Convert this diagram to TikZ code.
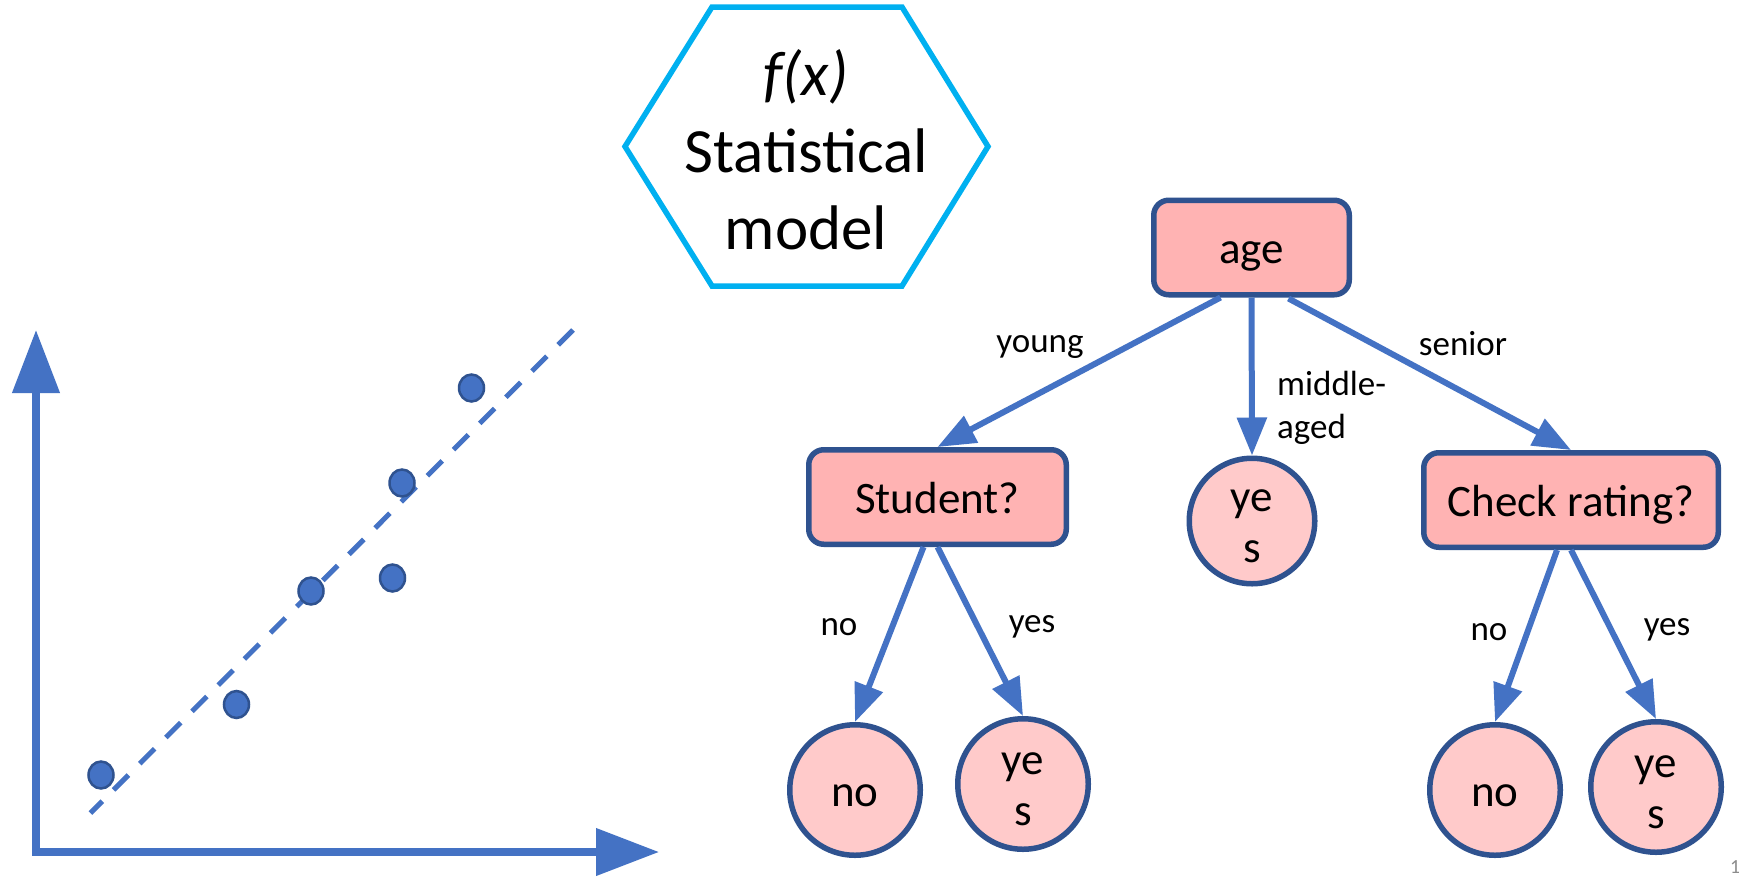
\documentclass[tikz,border=0pt]{standalone}
\usepackage{fontspec}
\setmainfont{Carlito}
\usetikzlibrary{arrows.meta,calc}
\definecolor{linkblue}{HTML}{4472C4}
\definecolor{edgeblue}{HTML}{2F528F}
\definecolor{hexcyan}{HTML}{00B0F0}
\definecolor{boxpink}{HTML}{FFB3B3}
\definecolor{leafpink}{HTML}{FFCACA}
\definecolor{pagegray}{HTML}{8C8C8C}
\begin{document}
\begin{tikzpicture}[x=1pt,y=-1pt,
  testbox/.style={draw=edgeblue, line width=5.5pt, fill=boxpink, rounded corners=15pt,
    minimum height=94.5pt, inner sep=0pt, font=\fontsize{45}{54}\selectfont,
    text height=38pt, text depth=6pt},
  leaf/.style={circle, draw=edgeblue, line width=5.5pt, fill=leafpink, minimum size=130.5pt,
    inner sep=0pt, font=\fontsize{45}{51}\selectfont},
  leafone/.style={leaf, text height=38pt, text depth=6pt},
  leaftwo/.style={leaf, align=center, text height=82pt, text depth=0pt},
  branch/.style={draw=linkblue, line width=6pt, -{Triangle[width=29pt,length=38pt]}},
  lbl/.style={font=\fontsize{35}{43}\selectfont, anchor=base, inner sep=0pt},
  axis/.style={draw=linkblue, line width=7.5pt, line join=miter,
    {Triangle[width=46pt,length=63pt]}-{Triangle[width=46pt,length=63pt]}},
  fit/.style={draw=linkblue, line width=5pt, dash pattern=on 21pt off 16pt},
  datum/.style={draw=edgeblue, fill=linkblue, line width=2.5pt}
]
\useasboundingbox (0,0) rectangle (1739,876);
\fill[white] (0,0) rectangle (1739,876);

% ---- scatter plot with fitted line ----
\coordinate (ytip) at (36,330);
\coordinate (origin) at (36,852);
\coordinate (xtip) at (659,852);
\draw[axis] (ytip) -- (origin) -- (xtip);
\coordinate (fittop) at (573,330);
\coordinate (fitbot) at (90.5,813);
\draw[fit] (fittop) -- (fitbot);
\foreach \px/\py in {101/775, 236.5/704.5, 311/591, 392.5/578, 402/483, 471.5/388}
  \draw[datum] (\px,\py) ellipse [x radius=12.5, y radius=13.5];

% ---- statistical model hexagon ----
\node[font=\fontsize{63}{77}\selectfont, align=center] (model) at (806,150)
  {\textit{f(x)}\\Statistical\\model};
\draw[hexcyan, line width=5.5pt, line join=miter]
  (712,7) -- (902,7) -- (988,146.5) -- (902,286) -- (712,286) -- (625,146.5) -- cycle;

% ---- decision tree ----
\node[testbox, minimum width=195.5pt] (age) at (1251.5,247.5) {age};
\node[testbox, minimum width=257.5pt] (stu) at (937.5,497) {Student?};
\node[testbox, minimum width=294.5pt] (chk) at (1571,500) {Check rating?};

\node[leaftwo, minimum size=125.5pt] (midyes) at (1252,521) {ye\\s};
\node[leafone] (stuno) at (855,790) {no};
\node[leaftwo] (stuyes) at (1023,784) {ye\\s};
\node[leafone] (chkno) at (1495,790) {no};
\node[leaftwo] (chkyes) at (1656,787) {ye\\s};

\draw[branch] ($(age.south)+(-31,0)$) -- (stu.north);
\draw[branch] (age.south) -- (midyes.north);
\draw[branch] ($(age.south)+(37,1)$) -- (chk.north);
\draw[branch] ($(stu.south)+(-14,0)$) -- (stuno.north);
\draw[branch] (stu.south) -- (stuyes.north);
\draw[branch] ($(chk.south)+(-14,0)$) -- (chkno.north);
\draw[branch] (chk.south) -- (chkyes.north);

\node[lbl] (lyoung) at (1040,352) {young};
\node[lbl, anchor=base west] (lmiddle) at (1277,395) {middle-};
\node[lbl, anchor=base west] (laged) at (1277,438) {aged};
\node[lbl] (lsenior) at (1463,355) {senior};
\node[lbl] (lstuno) at (839,635) {no};
\node[lbl] (lstuyes) at (1032,632) {yes};
\node[lbl] (lchkno) at (1489,640) {no};
\node[lbl] (lchkyes) at (1667,635) {yes};

% ---- slide number, running off the right edge ----
\node[font=\fontsize{20}{24}\selectfont, text=pagegray, anchor=base west, inner sep=0pt]
  (slideno) at (1730,873) {1};
\end{tikzpicture}
\end{document}
